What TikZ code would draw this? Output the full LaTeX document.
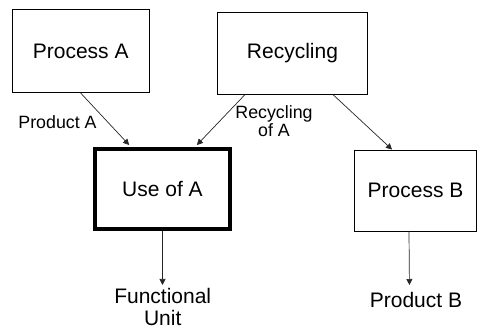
\documentclass[tikz,border=0pt]{standalone}
\usepackage{fontspec}
\setmainfont{Liberation Sans}
\usepackage{tikz}
\usetikzlibrary{arrows.meta}
\tikzset{
  procbox/.style={draw, line width=0.9pt, inner sep=0pt, font=\fontsize{21}{25}\selectfont},
  usebox/.style={procbox, line width=3.6pt},
  flow/.style={-{Triangle[length=6pt,width=6pt]}, line width=0.7pt, black!85},
  flowlabel/.style={inner sep=0pt, align=center, font=\fontsize{17.8}{18.4}\selectfont},
  outlabel/.style={inner sep=0pt, align=center, anchor=north, font=\fontsize{21}{22}\selectfont}
}

\begin{document}
\begin{tikzpicture}[x=1pt, y=-1pt]
\useasboundingbox (0,0) rectangle (477,328);
% boxes
\node[procbox, minimum width=136.7pt, minimum height=82.7pt] (procA) at (80.7,51.3) {Process A};
\node[procbox, minimum width=150.4pt, minimum height=82pt] (recyc) at (292.5,53.3) {Recycling};
\node[usebox, minimum width=135pt, minimum height=80pt] (useA) at (162.5,189) {Use of A};
\node[procbox, minimum width=122pt, minimum height=81pt] (procB) at (415.5,190.5) {Process B};
% outputs
\node[outlabel] (funit) at (162.7,288) {Functional\\Unit};
\node[outlabel] (prodB) at (416,292.5) {Product B};
% flows
\draw[flow, shorten >=3pt] (procA.south) -- ([xshift=38pt]useA.north west);
\draw[flow, shorten >=3pt] ([xshift=28pt]recyc.south west) -- ([xshift=-37pt]useA.north east);
\draw[flow] ([xshift=-35pt]recyc.south east) -- ([xshift=38pt]procB.north west);
\draw[flow, shorten >=3pt] (useA.south) -- (useA.south |- funit.north);
\draw[flow, shorten >=7.5pt] ([xshift=-6.5pt]procB.south) -- ([xshift=-6.5pt]prodB.north);
% flow labels
\node[flowlabel] (prodA) at (57.5,122) {Product A};
\node[flowlabel] (recA) at (274,121) {Recycling\\of A};
\end{tikzpicture}
\end{document}
